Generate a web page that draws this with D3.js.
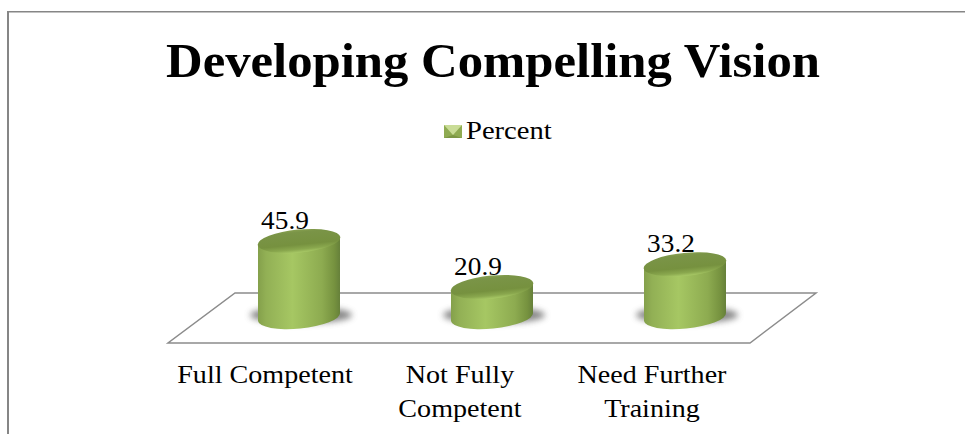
<!DOCTYPE html>
<html>
<head>
<meta charset="utf-8">
<script src="https://cdn.jsdelivr.net/npm/d3@7"></script>
<style>
  html, body { margin: 0; padding: 0; background: #fff; }
  text { font-family: "Liberation Serif", serif; fill: #000; }
</style>
</head>
<body>
<div id="chart"></div>
<script>
const categories = ['Full Competent', 'Not Fully Competent', 'Need Further Training'];
const percent = [45.9, 20.9, 33.2];
const categoryLines = [['Full Competent'], ['Not Fully', 'Competent'], ['Need Further', 'Training']];
const seriesName = 'Percent';
const chartTitle = 'Developing Compelling Vision';

const width = 965;
const height = 434;
const BASE_Y = 317;
const RX = 41;
const RY = 11.5;
const TILT = -5.5;
const DY = 4;
const LABEL_SHIFT = [-34, -32, -33];

const svg = d3.select('#chart')
  .append('svg')
  .attr('width', width)
  .attr('height', height)
  .style('display', 'block');

const x = d3.scalePoint().domain(categories).range([299, 685]);
const y = d3.scaleLinear().domain([0, 50]).range([325.5, 233.5]);

const defs = svg.append('defs');

const side = defs.append('linearGradient').attr('id', 'side');
[[0, '#84a04b'], [0.1, '#92b055'], [0.42, '#a6c763'], [0.78, '#8dab50'], [0.93, '#76923f'], [1, '#66803a']].forEach(([o, c]) => {
  side.append('stop').attr('offset', o).attr('stop-color', c);
});

const topFill = defs.append('linearGradient')
  .attr('id', 'top-fill')
  .attr('x1', 0).attr('y1', 0).attr('x2', 0).attr('y2', 1);
[[0, '#87a050'], [0.12, '#7a9447'], [0.65, '#76913f'], [0.86, '#8aa84e'], [1, '#a8c966']].forEach(([o, c]) => {
  topFill.append('stop').attr('offset', o).attr('stop-color', c);
});

defs.append('filter')
  .attr('id', 'blur')
  .attr('x', '-30%').attr('y', '-60%').attr('width', '160%').attr('height', '220%')
  .append('feGaussianBlur')
  .attr('stdDeviation', 3);

// stretch the serif a bit, the original face runs wider
function widen(sel, k) {
  sel.each(function () {
    const w = this.getComputedTextLength();
    d3.select(this).attr('textLength', w * k).attr('lengthAdjust', 'spacingAndGlyphs');
  });
}

// chart frame, only top and left are in the crop
svg.append('line')
  .attr('x1', 8).attr('y1', 11)
  .attr('x2', 8).attr('y2', height)
  .attr('stroke', '#868686')
  .attr('stroke-width', 2);

svg.append('line')
  .attr('x1', 7).attr('y1', 11.7)
  .attr('x2', width).attr('y2', 11.7)
  .attr('stroke', '#868686')
  .attr('stroke-width', 1.4);

svg.append('text')
  .attr('x', 493)
  .attr('y', 77)
  .attr('text-anchor', 'middle')
  .attr('font-size', 49)
  .attr('font-weight', 'bold')
  .attr('textLength', 654)
  .attr('lengthAdjust', 'spacingAndGlyphs')
  .text(chartTitle);

// legend swatch with its bevel
const legendKey = svg.append('g').attr('transform', 'translate(444,125)');
legendKey.append('rect')
  .attr('width', 18).attr('height', 13)
  .attr('fill', '#8fab52');
legendKey.append('path')
  .attr('d', 'M0,0H18L9,10Z')
  .attr('fill', '#c9dc96');
legendKey.append('path')
  .attr('d', 'M0,13H18L9,10Z')
  .attr('fill', '#7c9644');

svg.append('text')
  .attr('x', 466)
  .attr('y', 139)
  .attr('font-size', 26)
  .text(seriesName)
  .call(widen, 1.1);

// floor
svg.append('path')
  .attr('d', 'M235,293H816L750,343H168Z')
  .attr('fill', '#fff')
  .attr('stroke', '#8c8c8c')
  .attr('stroke-width', 1.5);

// labels go under the cylinders, the 45.9 gets clipped by its top
svg.selectAll('.value')
  .data(percent)
  .join('text')
  .attr('class', 'value')
  .attr('x', (d, i) => x(categories[i]) - 14)
  .attr('y', d => y(d) - 12)
  .attr('text-anchor', 'middle')
  .attr('font-size', 26)
  .text(d => d)
  .call(widen, 1.05);

const bars = svg.selectAll('.bar')
  .data(percent)
  .join('g')
  .attr('class', 'bar')
  .attr('transform', (d, i) => `translate(${x(categories[i])},0)`);

bars.append('ellipse')
  .attr('cx', 2)
  .attr('cy', BASE_Y - 2)
  .attr('rx', RX + 10)
  .attr('ry', RY - 3)
  .attr('fill', '#5f5f5f')
  .attr('opacity', 0.75)
  .attr('filter', 'url(#blur)');

bars.append('path')
  .attr('d', d => `M${-RX},${y(d) + DY}V${BASE_Y + DY}A${RX},${RY} ${TILT} 0 0 ${RX},${BASE_Y - DY}V${y(d) - DY}Z`)
  .attr('fill', 'url(#side)');

bars.append('ellipse')
  .attr('rx', RX + 0.5)
  .attr('ry', RY)
  .attr('transform', d => `translate(0,${y(d)}) rotate(${TILT})`)
  .attr('fill', 'url(#top-fill)');

// axis labels, one text per line
categoryLines.forEach((lines, i) => {
  svg.selectAll(`.cat-${i}`)
    .data(lines)
    .join('text')
    .attr('class', `cat-${i}`)
    .attr('x', x(categories[i]) + LABEL_SHIFT[i])
    .attr('y', (d, j) => 383 + j * 34)
    .attr('text-anchor', 'middle')
    .attr('font-size', 26)
    .text(d => d)
    .call(widen, 1.08);
});
</script>
</body>
</html>
